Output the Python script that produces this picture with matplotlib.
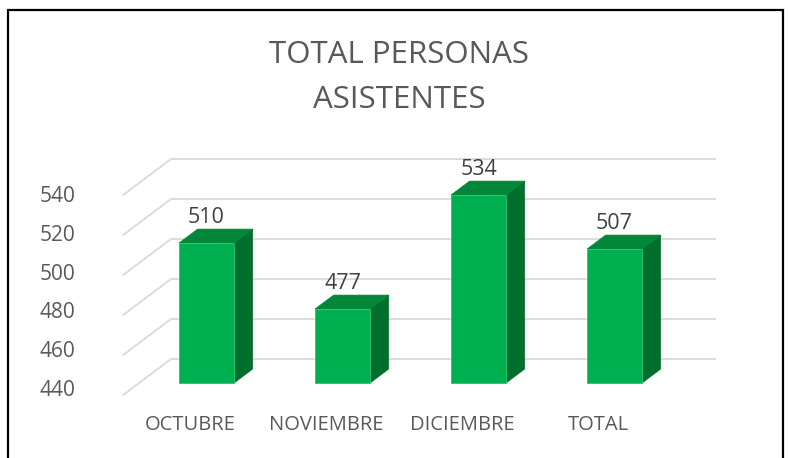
import matplotlib.pyplot as plt
from matplotlib.patches import Polygon, Rectangle

categories = ["OCTUBRE", "NOVIEMBRE", "DICIEMBRE", "TOTAL"]
values = [510, 477, 534, 507]
ticks = [440, 460, 480, 500, 520, 540]
title_lines = ["TOTAL PERSONAS", "ASISTENTES"]

BASE = 440
# oblique "3d" depth vector (data units per full floor depth)
DX, DY = 0.353, 18.0
HW = 0.202            # half bar width
D0, D1 = 1 / 3, 0.72  # bar front / back depth
WALL_L, WALL_R = -0.496, 3.504

FRONT = "#00b050"
TOP = "#00873a"
SIDE = "#006f2e"
GRID = "#d9d9d9"
TXT = "#595959"


def proj(x, v, d):
    return (x + DX * d, v + DY * d)


fig = plt.figure(figsize=(7.88, 4.58), dpi=100)
ax = fig.add_axes([0, 0, 1, 1])
ax.set_xlim(-1.401, 4.393)
ax.set_ylim(408.5, 637.5)
ax.axis("off")

# outer frame
fig.add_artist(Rectangle((8 / 788, -0.1), 775 / 788, 1.1 - 10 / 458, transform=fig.transFigure,
                         fill=False, lw=1.6, ec="black", clip_on=False))

# gridlines: side wall diagonals + back wall horizontals
for t in ticks:
    x0, y0 = proj(WALL_L, t, 0)
    x1, y1 = proj(WALL_L, t, 1)
    x2, y2 = proj(WALL_R, t, 1)
    ax.plot([x0, x1, x2], [y0, y1, y2], color=GRID, lw=1.3, solid_joinstyle="miter", zorder=1)

# tick labels
for t in ticks:
    ax.text(-0.849, BASE + 2.5 + (t - BASE) * 0.965, str(t), ha="right", va="center",
            fontsize=15, color=TXT, family="Open Sans")

# bars
for i, v in enumerate(values):
    front = [proj(i - HW, BASE, D0), proj(i + HW, BASE, D0), proj(i + HW, v, D0), proj(i - HW, v, D0)]
    top = [proj(i - HW, v, D0), proj(i + HW, v, D0), proj(i + HW, v, D1), proj(i - HW, v, D1)]
    side = [proj(i + HW, BASE, D0), proj(i + HW, BASE, D1), proj(i + HW, v, D1), proj(i + HW, v, D0)]
    ax.add_patch(Polygon(side, closed=True, fc=SIDE, ec=SIDE, lw=0.5, zorder=3))
    ax.add_patch(Polygon(top, closed=True, fc=TOP, ec=TOP, lw=0.5, zorder=3))
    ax.add_patch(Polygon(front, closed=True, fc=FRONT, ec="#33c070", lw=0.6, zorder=4))
    lx, _ = proj(i, v, D0)
    _, ly = proj(i, v, D1)
    ax.text(lx, ly + 0.3, str(v), ha="center", va="bottom", fontsize=15.5,
            color="#404040", family="Open Sans", zorder=5)

# category labels
for i, c in enumerate(categories):
    ax.text(i, 425, c, ha="center", va="center", fontsize=14.5, color=TXT, family="Open Sans")

fig.text(399.5 / 788, 1 - 55 / 458, title_lines[0], ha="center", va="center",
         fontsize=22.5, color=TXT, family="Open Sans")
fig.text(399.5 / 788, 1 - 100 / 458, title_lines[1], ha="center", va="center",
         fontsize=22.5, color=TXT, family="Open Sans")

fig.savefig("out.png", dpi=100, facecolor="white")
